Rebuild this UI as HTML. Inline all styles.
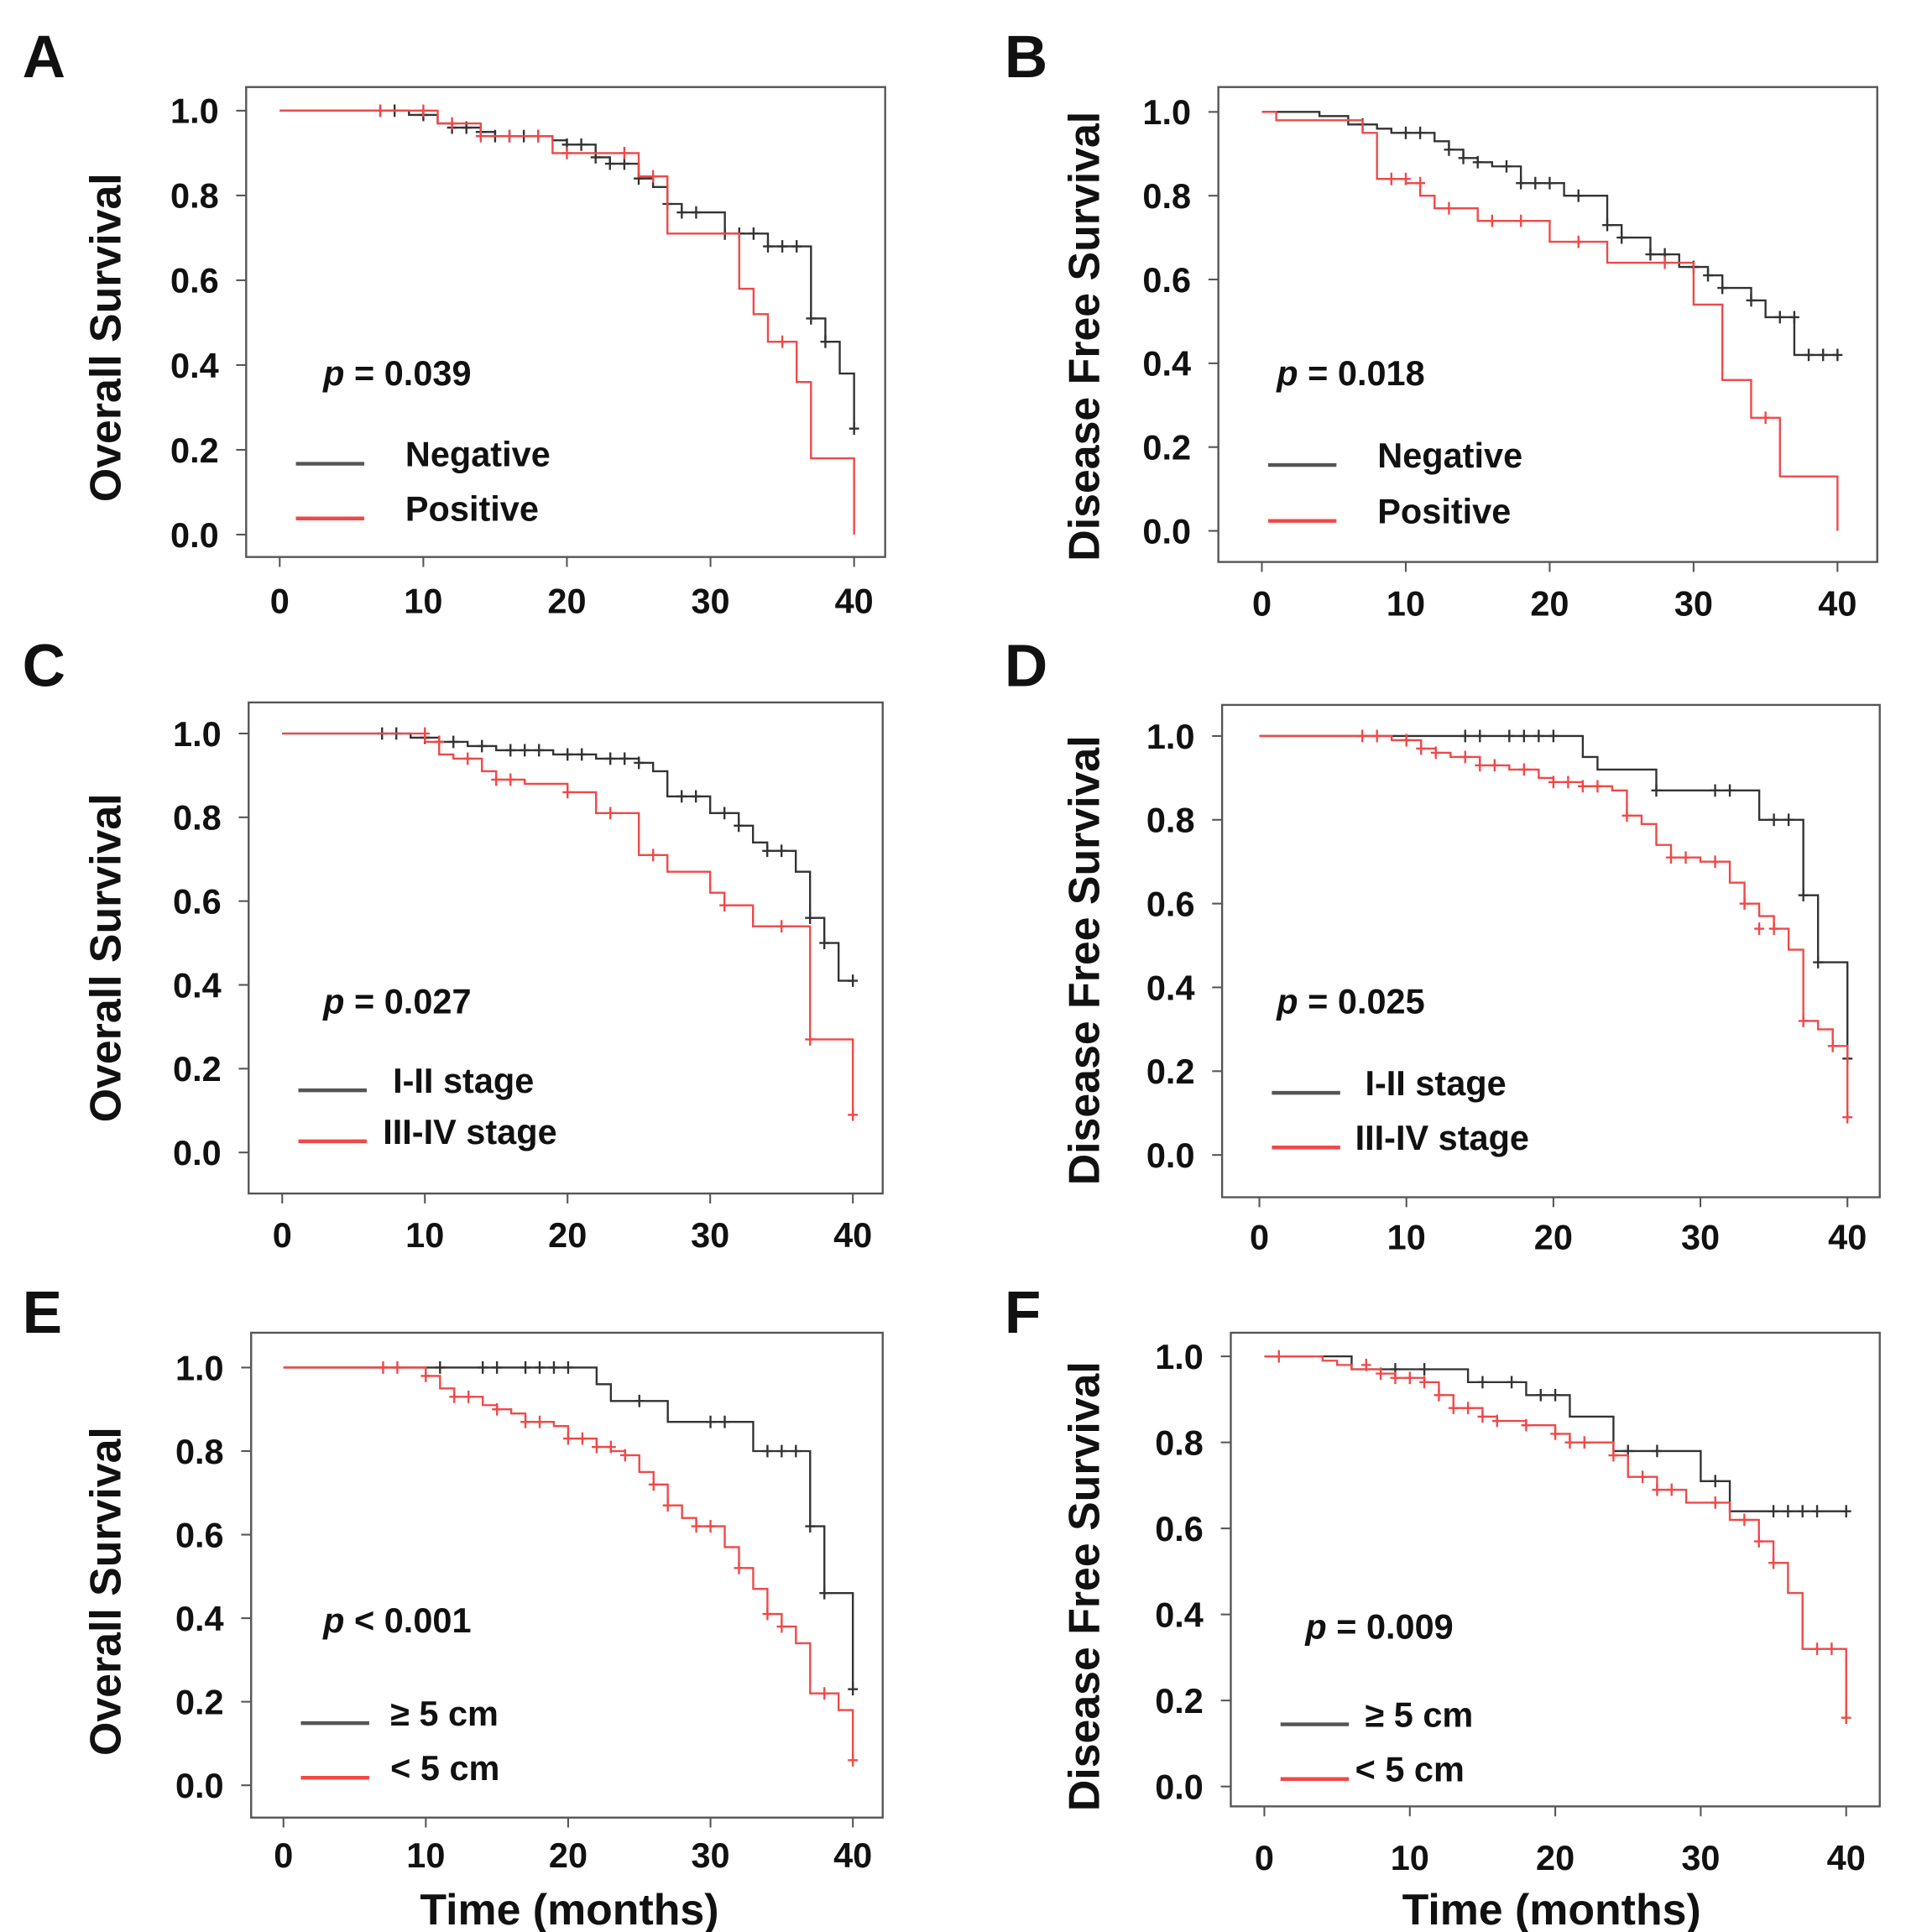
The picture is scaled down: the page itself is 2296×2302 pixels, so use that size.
<!DOCTYPE html>
<html><head><meta charset="utf-8"><style>
html,body{margin:0;padding:0;background:#fff}
svg{display:block}
text{font-family:"Liberation Sans",Arial,sans-serif;font-weight:bold;fill:#111}
</style></head><body>
<svg id="fig" width="2296" height="2302" viewBox="0 0 1550 1554"></svg>
<script>
// ---- data: [time, survival] step events; censor marks [time, survival]
const A_neg = [[9,.99],[11,.97],[12,.96],[14,.95],[15,.94],[19,.93],[20,.92],[22,.89],[23,.875],[25,.84],[26,.82],[27,.78],[28,.76],[31,.71],[34,.68],[37,.51],[38,.455],[39,.38],[40,.25]];
const A_negC = [[7,1],[8,1],[10,.99],[12,.96],[13,.96],[14,.95],[15,.94],[16,.94],[17,.94],[18,.94],[20,.92],[21,.92],[22,.89],[23,.875],[24,.875],[25,.84],[27,.78],[28,.76],[29,.76],[31,.71],[32,.71],[33,.71],[34,.68],[35,.68],[36,.68],[37,.51],[38,.455],[40,.25]];
const A_pos = [[11,.97],[14,.94],[19,.90],[25,.845],[27,.71],[32,.58],[33,.52],[34,.455],[36,.36],[37,.18],[40,0]];
const A_posC = [[7,1],[10,1],[12,.97],[14,.94],[16,.94],[18,.94],[20,.90],[24,.90],[26,.845],[35,.455]];

const B_neg = [[4,.99],[6,.97],[8,.96],[9,.95],[12,.93],[13,.91],[14,.89],[15,.88],[16,.87],[18,.83],[21,.80],[24,.73],[25,.70],[27,.66],[29,.63],[31,.61],[32,.58],[34,.55],[35,.51],[37,.42]];
const B_negC = [[7,.97],[10,.95],[11,.95],[13,.91],[14,.89],[15,.88],[17,.87],[18,.83],[19,.83],[20,.83],[22,.80],[24,.73],[25,.70],[27,.66],[28,.66],[30,.63],[31,.61],[32,.58],[34,.55],[36,.51],[37,.51],[38,.42],[39,.42],[40,.42]];
const B_pos = [[1,.98],[7,.95],[8,.84],[10,.83],[11,.80],[12,.77],[15,.74],[20,.69],[24,.64],[30,.54],[32,.36],[34,.27],[36,.13],[40,0]];
const B_posC = [[9,.84],[10,.84],[11,.83],[13,.77],[16,.74],[18,.74],[22,.69],[28,.64],[35,.27]];

const C_low = [[9,.99],[11,.98],[13,.97],[15,.96],[19,.95],[22,.94],[25,.93],[26,.91],[27,.85],[30,.81],[32,.78],[33,.74],[34,.72],[36,.67],[37,.56],[38,.50],[39,.41]];
const C_lowC = [[7,1],[8,1],[10,.99],[11,.98],[12,.98],[14,.97],[16,.96],[17,.96],[18,.96],[20,.95],[21,.95],[23,.94],[24,.94],[25,.93],[28,.85],[29,.85],[31,.81],[32,.78],[34,.72],[35,.72],[37,.56],[38,.50],[40,.41]];
const C_high = [[10,.98],[11,.95],[12,.94],[14,.91],[15,.89],[17,.88],[20,.86],[22,.81],[25,.71],[27,.67],[30,.62],[31,.59],[33,.54],[37,.27],[40,.09]];
const C_highC = [[10,1],[11,.98],[13,.94],[15,.89],[16,.89],[20,.86],[23,.81],[26,.71],[31,.59],[35,.54],[37,.27],[40,.09]];

const D_low = [[22,.95],[23,.92],[27,.87],[34,.80],[37,.62],[38,.46],[40,.23]];
const D_lowC = [[14,1],[15,1],[17,1],[18,1],[19,1],[20,1],[27,.87],[31,.87],[32,.87],[35,.80],[36,.80],[37,.62],[38,.46],[40,.23]];
const D_high = [[9,.99],[11,.97],[12,.96],[13,.95],[15,.93],[17,.92],[19,.90],[20,.89],[22,.88],[24,.87],[25,.81],[26,.79],[27,.74],[28,.71],[30,.70],[32,.65],[33,.60],[34,.57],[35,.54],[36,.49],[37,.32],[38,.30],[39,.26],[40,.09]];
const D_highC = [[7,1],[8,1],[10,.99],[11,.97],[12,.96],[14,.95],[15,.93],[16,.93],[18,.92],[20,.89],[21,.89],[22,.88],[23,.88],[25,.81],[28,.71],[29,.71],[31,.70],[33,.60],[34,.54],[35,.54],[37,.32],[39,.26],[40,.09]];

const E_big = [[22,.96],[23,.92],[27,.87],[33,.80],[37,.62],[38,.46],[40,.23]];
const E_bigC = [[11,1],[14,1],[15,1],[17,1],[18,1],[19,1],[20,1],[25,.92],[30,.87],[31,.87],[34,.80],[35,.80],[36,.80],[37,.62],[38,.46],[40,.23]];
const E_small = [[10,.98],[11,.95],[12,.93],[14,.91],[15,.90],[16,.89],[17,.87],[19,.86],[20,.83],[22,.81],[23,.80],[24,.79],[25,.75],[26,.72],[27,.67],[28,.64],[29,.62],[31,.57],[32,.52],[33,.47],[34,.41],[35,.38],[36,.34],[37,.22],[39,.18],[40,.06]];
const E_smallC = [[7,1],[8,1],[10,.98],[12,.93],[13,.93],[15,.90],[17,.87],[18,.87],[20,.83],[21,.83],[22,.81],[23,.81],[24,.79],[26,.72],[27,.67],[29,.62],[30,.62],[32,.52],[34,.41],[35,.38],[38,.22],[40,.06]];

const F_big = [[6,.97],[14,.94],[18,.91],[21,.86],[24,.78],[30,.71],[32,.64]];
const F_bigC = [[9,.97],[11,.97],[15,.94],[17,.94],[19,.91],[20,.91],[25,.78],[27,.78],[31,.71],[35,.64],[36,.64],[37,.64],[38,.64],[40,.64]];
const F_small = [[4,.99],[5,.98],[6,.97],[8,.96],[9,.95],[11,.94],[12,.91],[13,.88],[15,.86],[16,.85],[18,.84],[20,.82],[21,.80],[24,.77],[25,.72],[27,.69],[29,.66],[32,.62],[34,.57],[35,.52],[36,.45],[37,.32],[40,.16]];
const F_smallC = [[1,1],[7,.98],[8,.96],[9,.95],[10,.95],[11,.94],[12,.91],[13,.88],[14,.88],[15,.86],[16,.85],[18,.84],[20,.82],[21,.80],[22,.80],[24,.77],[26,.72],[27,.69],[28,.69],[31,.66],[33,.62],[34,.57],[35,.52],[38,.32],[39,.32],[40,.16]];

const xTicks = [0,10,20,30,40];
const yTicks = [0,0.2,0.4,0.6,0.8,1.0];

const NS='http://www.w3.org/2000/svg';
const svg=document.getElementById('fig');
function mk(tag,attrs,parent){const e=document.createElementNS(NS,tag);for(const k in attrs)e.setAttribute(k,attrs[k]);(parent||svg).appendChild(e);return e;}

const panels=[
 {id:'a',L:'A',lx:18,ly:62,box:[198,70,712,448],x0:225,x40:687,y1:89,y0:430,xl:483,ttl:'Overall Survival',tx:85,ser:[[A_neg,A_negC,'#333'],[A_pos,A_posC,'#f04848']],p:'= 0.039',px:260,py:300,leg:['Negative','Positive'],ly1:373,ly2:417,legx:326,end:40},
 {id:'b',L:'B',lx:808,ly:62,box:[980,70,1510,452],x0:1015,x40:1478,y1:90,y0:427,xl:485,ttl:'Disease Free Survival',tx:872,ser:[[B_neg,B_negC,'#333'],[B_pos,B_posC,'#f04848']],p:'= 0.018',px:1027,py:300,leg:['Negative','Positive'],ly1:374,ly2:419,legx:1108,end:40},
 {id:'c',L:'C',lx:18,ly:552,box:[200,565,710,960],x0:227,x40:686,y1:590,y0:927,xl:993,ttl:'Overall Survival',tx:85,ser:[[C_low,C_lowC,'#333'],[C_high,C_highC,'#f04848']],p:'= 0.027',px:260,py:805,leg:['I-II stage','III-IV stage'],ly1:877,ly2:918,legx:316,legx2:308,end:40},
 {id:'d',L:'D',lx:808,ly:552,box:[983,567,1512,963],x0:1013,x40:1486,y1:592,y0:929,xl:995,ttl:'Disease Free Survival',tx:872,ser:[[D_low,D_lowC,'#333'],[D_high,D_highC,'#f04848']],p:'= 0.025',px:1027,py:805,leg:['I-II stage','III-IV stage'],ly1:879,ly2:923,legx:1098,legx2:1090,end:40},
 {id:'e',L:'E',lx:18,ly:1072,box:[202,1072,710,1462],x0:228,x40:686,y1:1100,y0:1436,xl:1492,ttl:'Overall Survival',tx:85,ser:[[E_big,E_bigC,'#333'],[E_small,E_smallC,'#f04848']],p:'< 0.001',px:260,py:1303,leg:['\u2265 5 cm','< 5 cm'],ly1:1386,ly2:1430,legx:314,end:40,xt:458},
 {id:'f',L:'F',lx:808,ly:1072,box:[990,1072,1512,1453],x0:1017,x40:1485,y1:1091,y0:1437,xl:1494,ttl:'Disease Free Survival',tx:872,ser:[[F_big,F_bigC,'#333'],[F_small,F_smallC,'#f04848']],p:'= 0.009',px:1050,py:1308,leg:['\u2265 5 cm','< 5 cm'],ly1:1387,ly2:1431,legx:1098,legx2:1090,end:40,xt:1248}
];

panels.forEach(P=>{
 const g=mk('g',{});
 
 
 const X=t=>P.x0+(P.x40-P.x0)*t/40;
 const Y=s=>P.y0+(P.y1-P.y0)*s;
 const lt=mk('text',{x:P.lx,y:P.ly,'font-size':48},g);lt.textContent=P.L;
 
 const [bx1,by1,bx2,by2]=P.box;
 const box=mk('rect',{x:bx1,y:by1,width:bx2-bx1,height:by2-by1,fill:'none',stroke:'#555','stroke-width':1.6},g);
 
 yTicks.forEach(v=>{
  mk('line',{x1:bx1-8,x2:bx1,y1:Y(v),y2:Y(v),stroke:'#555','stroke-width':1.4},g);
  const t=mk('text',{x:bx1-22,y:Y(v)+10,'font-size':28,'text-anchor':'end'},g);t.textContent=v.toFixed(1);
  
 });
 xTicks.forEach(v=>{
  mk('line',{x1:X(v),x2:X(v),y1:by2,y2:by2+8,stroke:'#555','stroke-width':1.4},g);
  const t=mk('text',{x:X(v),y:P.xl+10,'font-size':28,'text-anchor':'middle'},g);t.textContent=v;
  
 });
 const yt=mk('text',{x:P.tx,y:(Y(0.5)),'font-size':35,'text-anchor':'middle',transform:'rotate(-90 '+(P.tx+12)+' '+Y(0.5)+')'},g);
 yt.textContent=P.ttl;
 if(P.xt){const xt=mk('text',{x:P.xt,y:1548,'font-size':35,'text-anchor':'middle'},g);xt.textContent='Time (months)';
  }
 P.ser.forEach((S,i)=>{
  const [ev,cens,col]=S;let s=1,t=0;let d='M'+X(0)+' '+Y(1);
  ev.forEach(([te,se])=>{d+=' H'+X(te)+' V'+Y(se);s=se;t=te;});
  if(t<P.end)d+=' H'+X(P.end);
  const path=mk('path',{d:d,fill:'none',stroke:col,'stroke-width':1.6},g);
  
  cens.forEach(([tc,sc])=>{
   const c=mk('path',{d:'M'+(X(tc)-4)+' '+Y(sc)+' h8 M'+X(tc)+' '+(Y(sc)-5)+' v10',stroke:col,'stroke-width':1.6},g);
   
  });
 });
 const pt=mk('text',{x:P.px,y:P.py+10,'font-size':28},g);
 pt.innerHTML='<tspan font-style="italic">p</tspan> '+P.p;
 
 [[P.ly1,'#555',P.leg[0],P.legx],[P.ly2,'#f04848',P.leg[1],P.legx2||P.legx]].forEach(([ly,c,lab,lx],k)=>{
  const lg=mk('g',{},g);
  mk('line',{x1:bx1+40,x2:bx1+95,y1:ly,y2:ly,stroke:c,'stroke-width':3},lg);
  const lt2=mk('text',{x:lx,y:ly+2,'font-size':28},lg);lt2.textContent=lab;
 });
});
</script>
</body></html>
